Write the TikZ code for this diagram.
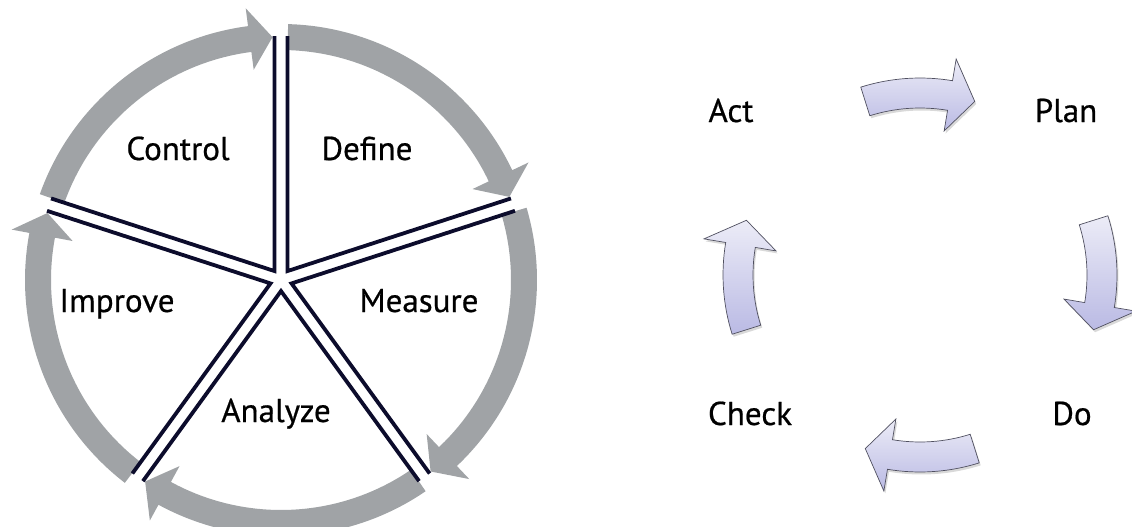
\documentclass[tikz,border=0pt]{standalone}
\usepackage{fontspec}
\setmainfont{PT Sans}
\newfontfamily\labelfont{PT Sans}[FakeBold=0.6]
\usetikzlibrary{positioning, calc, shadows}
\definecolor{ringgray}{RGB}{160,163,166}
\definecolor{spokeblue}{RGB}{12,12,44}
\definecolor{lavtop}{RGB}{236,236,247}
\definecolor{lavbot}{RGB}{186,186,228}
\definecolor{lavline}{RGB}{80,80,96}

\begin{document}
\begin{tikzpicture}[x=1pt, y=-1pt,
	label text/.style={font=\labelfont\fontsize{33}{38}\selectfont, anchor=base, inner sep=0pt},
	ring arrow/.style={fill=ringgray, draw=none},
	spoke/.style={draw=spokeblue, line width=3.8pt, line join=miter},
	cycle arrow/.style={draw=lavline, line width=0.7pt, top color=lavtop, bottom color=lavbot,
		drop shadow={opacity=0.3, shadow xshift=1.5pt, shadow yshift=-2.5pt}}]
\useasboundingbox (0, 0) rectangle (1132, 527);
\coordinate (ring) at (281, 280);
\coordinate (pdca) at (920, 275);
\begin{scope}[shift={(ring)}]
\foreach \k in {0, ..., 4} {
	\pgfmathsetmacro\s{-90 + 72*\k}
	\pgfmathsetmacro\tl{\s + 1.6}
	\pgfmathsetmacro\tp{\s + 70}
	\pgfmathsetmacro\hb{\s + 64.6}
	\fill[ring arrow] (\tl:230) arc[start angle=\tl, end angle=\hb, radius=230] -- (\hb:212) -- (\tp:243)
		-- (\hb:274) -- (\hb:256) arc[start angle=\hb, end angle=\tl, radius=256] -- cycle;
}
\foreach \k in {0, ..., 4} {
	\pgfmathsetmacro\s{-90 + 72*\k}
	\pgfmathsetmacro\ea{\s + 1.53}
	\pgfmathsetmacro\va{\s + 36}
	\pgfmathsetmacro\eb{\s + 70.47}
	\draw[spoke] (\ea:244) -- (\va:11.06) -- (\eb:244);
}
\end{scope}
\node[label text] (define) at (367, 160) {Define};
\node[label text] (measure) at (419, 312) {Measure};
\node[label text] (analyze) at (276, 422) {Analyze};
\node[label text] (improve) at (117, 312) {Improve};
\node[label text] (control) at (178, 160) {Control};
\begin{scope}[shift={(pdca)}]
\foreach \c in {-90, 0, 90, 180} {
	\pgfmathsetmacro\tl{\c - 17.5}
	\pgfmathsetmacro\hb{\c + 9.5}
	\pgfmathsetmacro\tp{\c + 17.5}
	\draw[cycle arrow] (\tl:167) arc[start angle=\tl, end angle=\hb, radius=167] -- (\hb:146) -- (\tp:182)
		-- (\hb:219) -- (\hb:197) arc[start angle=\hb, end angle=\tl, radius=197] -- cycle;
}
\end{scope}
\node[label text] (act) at (731, 122) {Act};
\node[label text] (plan) at (1066, 122) {Plan};
\node[label text] (do) at (1072, 425) {Do};
\node[label text] (check) at (750, 425) {Check};
\end{tikzpicture}
\end{document}
